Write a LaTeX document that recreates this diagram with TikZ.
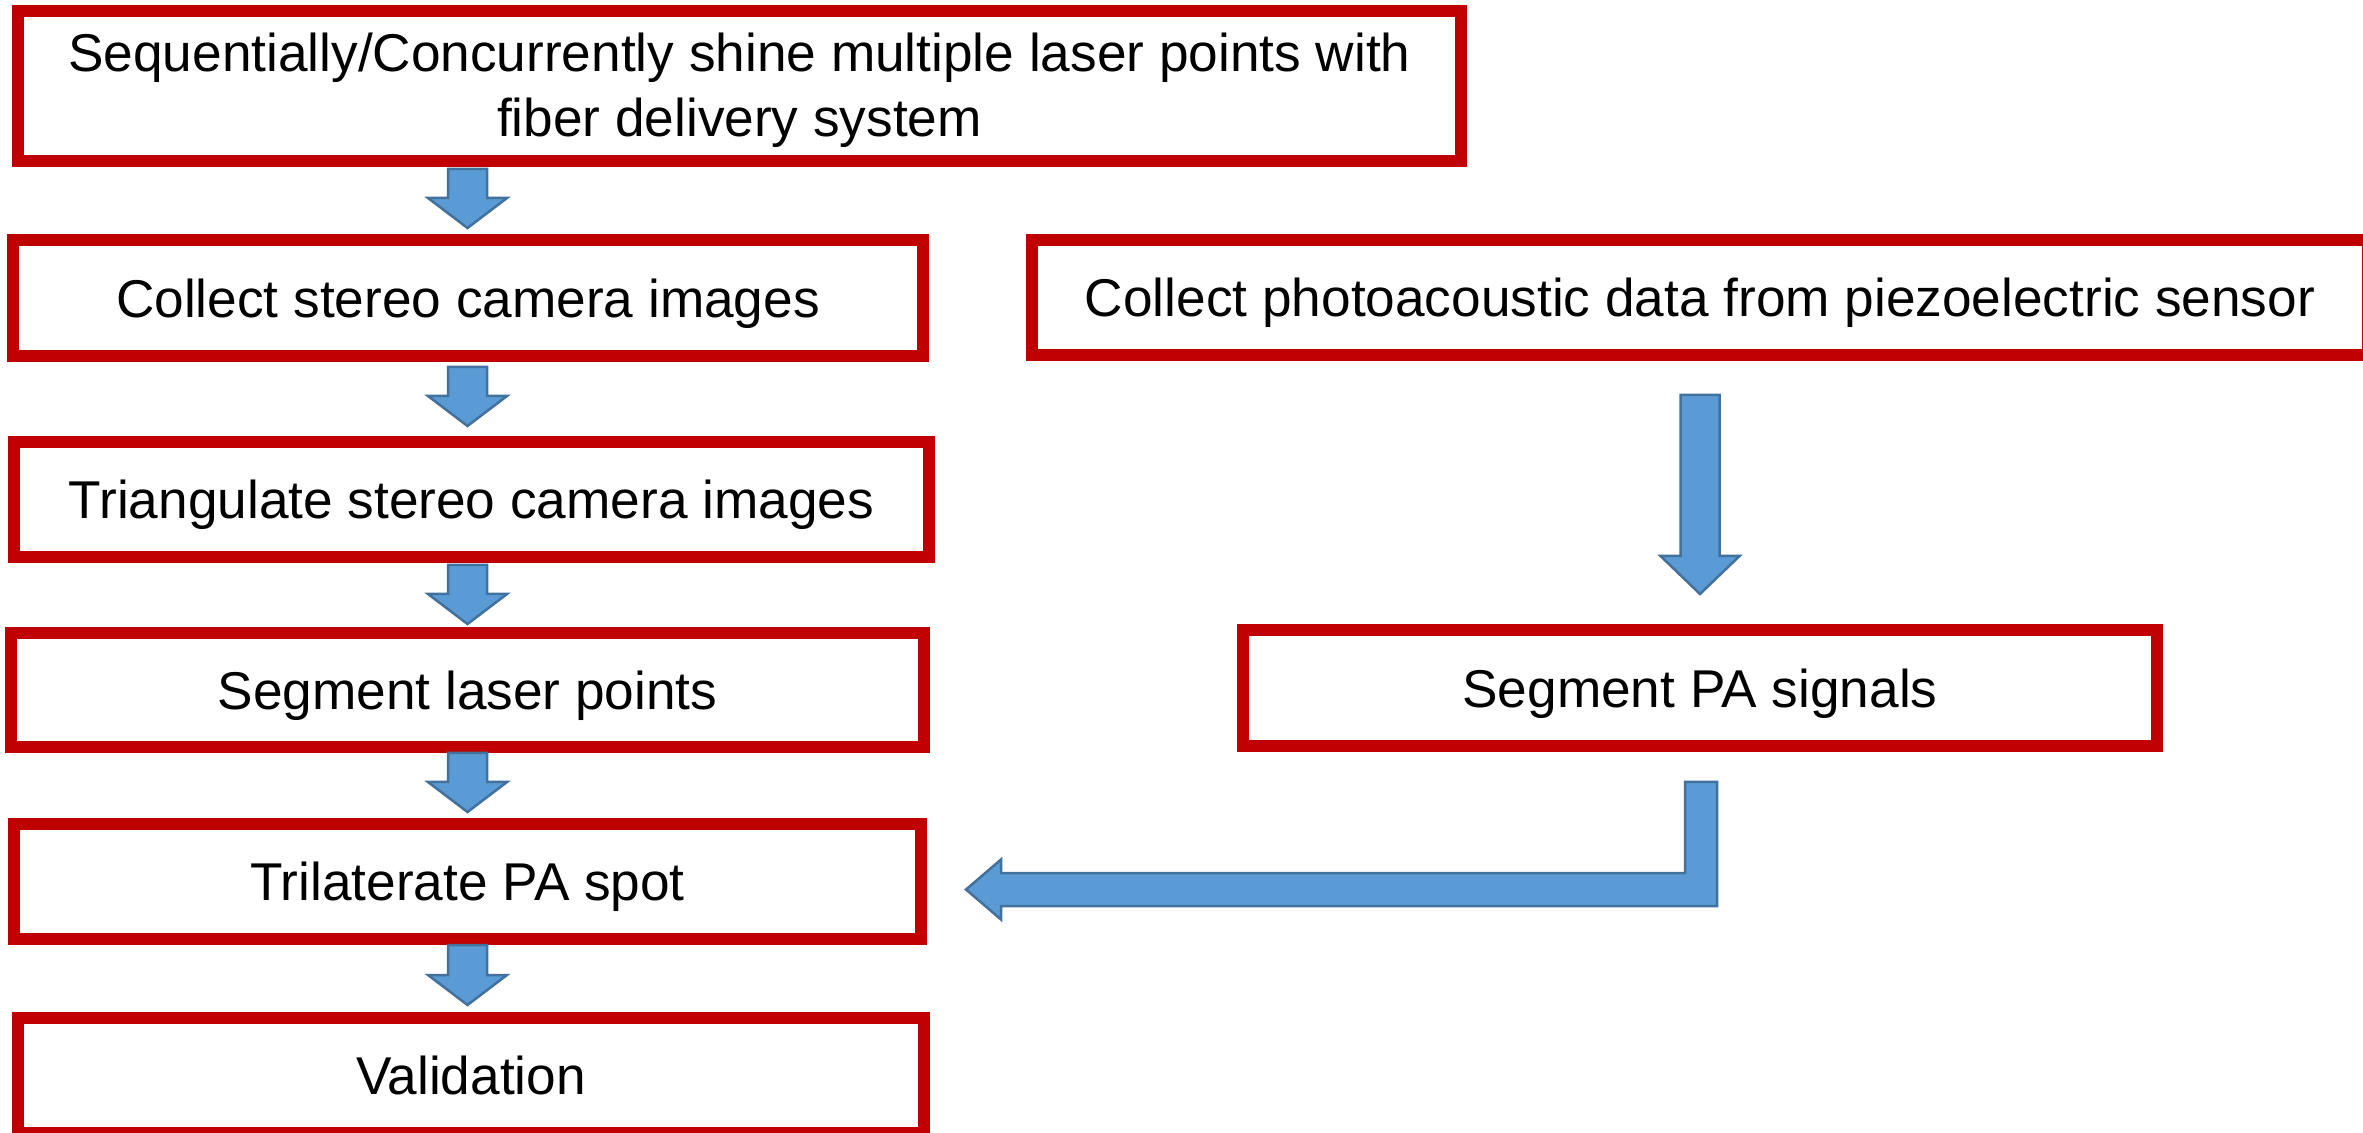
\documentclass[tikz,border=0pt]{standalone}
\usepackage{fontspec}
\setmainfont{Liberation Sans}
\usetikzlibrary{calc}

\definecolor{boxred}{HTML}{C00000}
\definecolor{arrowfill}{HTML}{5B9BD5}
\definecolor{arrowedge}{HTML}{41719C}

\tikzset{
  boxfont/.style={font=\fontsize{26.6pt}{32.5pt}\selectfont},
  stepbox/.style={rectangle, draw=boxred, line width=6pt, fill=white,
    inner sep=0pt, text height=19.2pt, text depth=0pt, boxfont},
  boxlabel/.style={inner sep=0pt, boxfont},
  blockarrow/.style={fill=arrowfill, draw=arrowedge, line width=1.25pt,
    line join=miter},
}

% downward block arrow: #1 top centre, #2 tip, #3 head length
\newcommand\downblock[3]{%
  \draw[blockarrow] let \p1=#1, \p2=#2 in
    (\x2-9.75pt,\y1) -- (\x2+9.75pt,\y1) -- (\x2+9.75pt,\y2+#3)
    -- (\x2+19.75pt,\y2+#3) -- (\x2,\y2) -- (\x2-19.75pt,\y2+#3)
    -- (\x2-9.75pt,\y2+#3) -- cycle;}

\begin{document}
\begin{tikzpicture}[x=0.5pt,y=-0.5pt]
\useasboundingbox (0,0) rectangle (2363,1133);
\clip (0,0) rectangle (2363,1133);

% process steps
\node[stepbox, minimum width=721.5pt, minimum height=75pt] (b1) at (739.5,86) {};
\node[boxlabel, anchor=base] (t1a) at (739.5,72)
  {Sequentially/Concurrently shine multiple laser points with};
\node[boxlabel, anchor=base] (t1b) at (739.5,137) {fiber delivery system};

\node[stepbox, minimum width=455pt, minimum height=58pt] (b2) at (468,298)
  {Collect stereo camera images};
\node[stepbox, minimum width=668pt, minimum height=57.5pt] (b3) at (1700,297.5)
  {Collect photoacoustic data from piezoelectric sensor};
\node[stepbox, minimum width=457.5pt, minimum height=57.5pt] (b4) at (471.5,499.5)
  {Triangulate stereo camera images};
\node[stepbox, minimum width=456.5pt, minimum height=57pt] (b5) at (467.5,690)
  {Segment laser points};
\node[stepbox, minimum width=457pt, minimum height=58pt] (b6) at (1700,688)
  {Segment PA signals};
\node[stepbox, minimum width=453.5pt, minimum height=57.5pt] (b7) at (467.5,881.5)
  {Trilaterate PA spot};
\node[stepbox, minimum width=453pt, minimum height=57.5pt] (b8) at (471,1075.5)
  {Validation};

% left column of block arrows
\coordinate (col) at (467.5,0);
\downblock{($(b1.south -| col)+(0,2)$)}{($(b2.north -| col)+(0,-6)$)}{15pt}
\downblock{($(b2.south -| col)+(0,5)$)}{($(b4.north -| col)+(0,-10)$)}{15pt}
\downblock{($(b4.south -| col)+(0,2)$)}{($(b5.north -| col)+(0,-3)$)}{15pt}
\downblock{($(b5.south -| col)+(0,0)$)}{($(b7.north -| col)+(0,-6)$)}{15pt}
\downblock{($(b7.south -| col)+(0,0)$)}{($(b8.north -| col)+(0,-7)$)}{15pt}

% right column arrow
\downblock{($(b3.south)+(0,34)$)}{($(b6.north)+(0,-30)$)}{19pt}

% bent arrow from the PA signals into the trilateration step
\coordinate (bt) at ($(b6.south)+(1,30)$);
\coordinate (bh) at ($(b7.east)+(39,8)$);
\draw[blockarrow] let \p1=(bt), \p2=(bh) in
  (\x1-8pt,\y1) -- (\x1+8pt,\y1) -- (\x1+8pt,\y2-8.25pt)
  -- (\x2+17.5pt,\y2-8.25pt) -- (\x2+17.5pt,\y2-15pt) -- (\x2,\y2)
  -- (\x2+17.5pt,\y2+15pt) -- (\x2+17.5pt,\y2+8.25pt)
  -- (\x1-8pt,\y2+8.25pt) -- cycle;
\end{tikzpicture}
\end{document}
